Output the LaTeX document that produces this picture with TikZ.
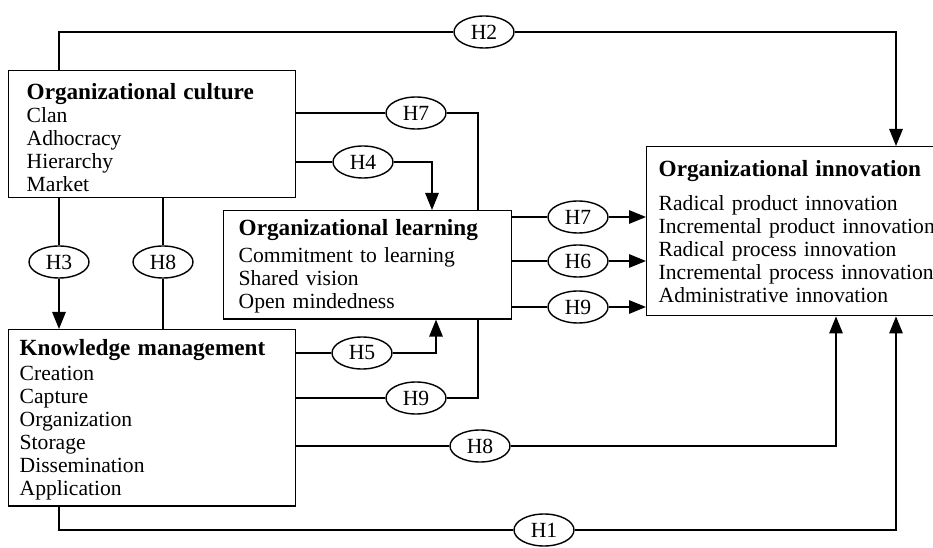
\documentclass[tikz,border=0pt]{standalone}
\usepackage{fontspec}
\setmainfont{Liberation Serif}
\usetikzlibrary{arrows.meta,shapes.geometric}
\newcommand{\headline}[2]{\rule{0pt}{#1}{\fontsize{13.2}{13.1}\selectfont\textbf{#2}}}

\begin{document}
\begin{tikzpicture}[thick,
    box/.style={draw, rectangle, anchor=north west, align=left,
        font=\fontsize{12.3}{13.1}\selectfont},
    hyp/.style={draw, ellipse, fill=white, inner sep=0pt,
        minimum width=1.2cm, minimum height=0.64cm,
        font=\fontsize{12.3}{13.1}\selectfont},
    arr/.style={-{Triangle[length=0.34cm,width=0.27cm]}}]
    \useasboundingbox (0,0) rectangle (18.66,10.94);% fix the margins
    % the four constructs
    \node[box, inner xsep=0.36cm, text width=5.02cm, minimum height=2.42cm]
        (culture) at (0.16,9.54) {\headline{13pt}{Organizational culture}\\
        Clan\\ Adhocracy\\ Hierarchy\\ Market};
    \node[box, inner xsep=0.3cm, text width=5.16cm, minimum height=2.1cm]
        (learning) at (4.46,6.74) {\headline{11pt}{Organizational learning}\\[2pt]
        Commitment to learning\\ Shared vision\\ Open mindedness};
    \node[box, inner xsep=0.24cm, text width=5.6cm, minimum height=3.38cm]
        (innovation) at (12.92,8.02) {\headline{9pt}{Organizational innovation}\\[0.22cm]
        Radical product innovation\\ Incremental product innovation\\
        Radical process innovation\\ Incremental process innovation\\
        Administrative innovation};
    \node[box, inner xsep=0.22cm, text width=5.3cm, minimum height=3.5cm]
        (knowledge) at (0.16,4.36) {\headline{11.5pt}{Knowledge management}\\[1pt]
        Creation\\ Capture\\ Organization\\ Storage\\ Dissemination\\
        Application};
    % the hypotheses
    \node[hyp] (h2) at (9.68,10.3) {H2};
    \node[hyp] (h7a) at (8.32,8.68) {H7};
    \node[hyp] (h4) at (7.26,7.7) {H4};
    \node[hyp] (h3) at (1.18,5.7) {H3};
    \node[hyp] (h8a) at (3.26,5.7) {H8};
    \node[hyp] (h7b) at (11.56,6.6) {H7};
    \node[hyp] (h6) at (11.56,5.72) {H6};
    \node[hyp] (h9b) at (11.56,4.8) {H9};
    \node[hyp] (h5) at (7.24,3.88) {H5};
    \node[hyp] (h9a) at (8.32,2.98) {H9};
    \node[hyp] (h8b) at (9.6,2.02) {H8};
    \node[hyp] (h1) at (10.88,0.34) {H1};
    % x positions of the risers
    \coordinate (outer) at (17.92,0);
    \coordinate (mediate) at (9.56,0);
    \coordinate (xH4) at (8.64,0);
    \coordinate (xH5) at (8.72,0);
    \coordinate (xH8) at (16.72,0);
    % connectors
    \draw (culture.north -| h3) |- (h2);% H2
    \draw[arr] (h2) -| (outer |- innovation.north);
    \draw (knowledge.south -| h3) |- (h1);% H1
    \draw[arr] (h1) -| (outer |- innovation.south);
    \draw[arr] (culture.south -| h3) -- (h3) -- (h3 |- knowledge.north);% H3
    \draw (culture.south -| h8a) -- (h8a) -- (h8a |- knowledge.north);% H8
    \draw[arr] (culture.east |- h4) -- (h4) -| (xH4 |- learning.north);% H4
    \draw (culture.east |- h7a) -- (h7a) -| (mediate |- learning.north);% H7
    \draw[arr] (knowledge.east |- h5) -- (h5) -| (xH5 |- learning.south);% H5
    \draw (knowledge.east |- h9a) -- (h9a) -| (mediate |- learning.south);% H9
    \draw[arr] (knowledge.east |- h8b) -- (h8b) -| (xH8 |- innovation.south);% H8
    \draw[arr] (learning.east |- h7b) -- (h7b) -- (innovation.west |- h7b);% H7
    \draw[arr] (learning.east |- h6) -- (h6) -- (innovation.west |- h6);% H6
    \draw[arr] (learning.east |- h9b) -- (h9b) -- (innovation.west |- h9b);% H9
\end{tikzpicture}
\end{document}
